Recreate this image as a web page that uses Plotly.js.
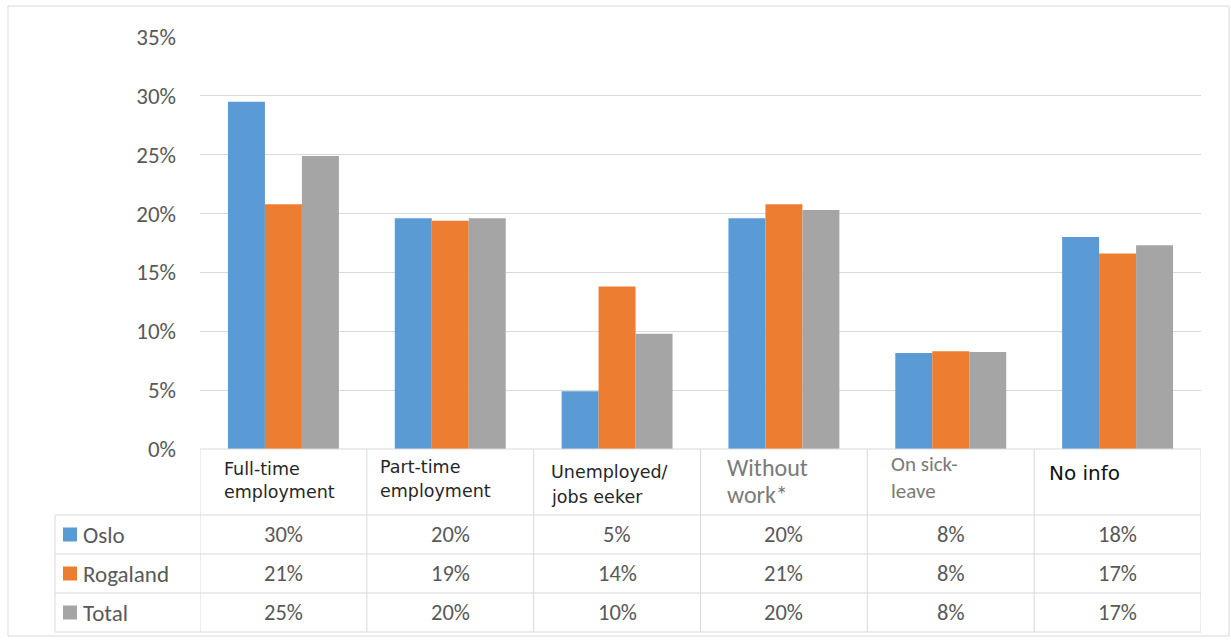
<!DOCTYPE html>
<html>
<head>
<meta charset="utf-8">
<script src="https://cdn.plot.ly/plotly-3.0.1.min.js"></script>
<style>
  html, body { margin: 0; padding: 0; background: #ffffff; }
  #chart { width: 1231px; height: 641px; }
</style>
</head>
<body>
<div id="chart"></div>
<script>
// ---------- DATA ----------
const categories = ["Full-time<br>employment", "Part-time<br>employment", "Unemployed/<br>jobs eeker", "Without<br>work*", "On sick-<br>leave", "No info"];
const seriesNames = ["Oslo", "Rogaland", "Total"];
const oslo     = [29.5, 19.6, 4.9, 19.6, 8.15, 18.0];
const rogaland = [20.8, 19.4, 13.8, 20.8, 8.3, 16.6];
const total    = [24.9, 19.6, 9.8, 20.3, 8.25, 17.3];
const yTicks   = [0, 5, 10, 15, 20, 25, 30, 35];

// ---------- STYLE ----------
const colors = ["#5B9BD5", "#ED7D31", "#A5A5A5"];
const seriesValues = [oslo, rogaland, total];
const headerOffsets = [22, 11, 15, 24, 22, 13];   // px from column left edge
const headerLineY = [[469, 492], [467, 491], [472, 497], [467, 494], [464, 491], [473]];
const headerStyles = [
  {family: "DejaVu Sans", size: 17.5, color: "#262626"},
  {family: "DejaVu Sans", size: 17.5, color: "#262626"},
  {family: "DejaVu Sans", size: 17.5, color: "#262626"},
  {family: "Carlito, Open Sans", size: 24, color: "#7a7a7a"},
  {family: "Carlito, Open Sans", size: 21, color: "#7a7a7a"},
  {family: "DejaVu Sans", size: 20, color: "#111111"}
];
const gridCol = "#d9d9d9";
const textGray = "#595959";
const bodyFont = "Carlito, Open Sans";

const L = 200, R = 30, T = 37, B = 192, W = 1231, H = 641;
const PW = W - L - R, PH = H - T - B;
const X = px => (px - L) / PW;
const Y = py => (H - B - py) / PH;

const traces = seriesNames.map((name, i) => ({
  type: "bar",
  name: name,
  x: categories.map((c, j) => j),
  y: seriesValues[i],
  marker: {color: colors[i], line: {width: 0}},
  hoverinfo: "skip"
}));

const shapes = [];
const annotations = [];
const line = (x0, y0, x1, y1, xref) => shapes.push({
  type: "line", xref: xref || "paper", yref: "paper",
  x0: x0, y0: y0, x1: x1, y1: y1,
  line: {color: gridCol, width: 1}, layer: "above"
});

// outer chart border
shapes.push({type: "rect", xref: "paper", yref: "paper",
  x0: X(8), x1: X(1229), y0: Y(636), y1: Y(6),
  line: {color: gridCol, width: 1}, fillcolor: "rgba(0,0,0,0)"});

// table horizontal lines
line(X(200), Y(449), X(1201), Y(449));
[515, 554, 593, 632].forEach(py => line(X(55), Y(py), X(1201), Y(py)));
// legend column left edge
line(X(55), Y(515), X(55), Y(632));
// column separators
for (let k = 0; k <= categories.length; k++) {
  line(k - 0.5, Y(449), k - 0.5, Y(632), "x");
}

// header labels
const colW = PW / categories.length;
categories.forEach((c, j) => {
  const parts = c.split("<br>");
  parts.forEach((p, k) => {
    annotations.push({
      xref: "paper", yref: "paper",
      x: X(L + j * colW + headerOffsets[j]), y: Y(headerLineY[j][k]),
      xanchor: "left", yanchor: "middle",
      text: p, showarrow: false, font: headerStyles[j]
    });
  });
});

// rows
const rowCenters = [534.5, 573.5, 612.5];
seriesNames.forEach((name, i) => {
  shapes.push({type: "rect", xref: "paper", yref: "paper",
    x0: X(63), x1: X(77), y0: Y(rowCenters[i] + 7), y1: Y(rowCenters[i] - 7),
    fillcolor: colors[i], line: {width: 0}});
  annotations.push({xref: "paper", yref: "paper", x: X(81), y: Y(rowCenters[i]),
    xanchor: "left", yanchor: "middle", text: name, showarrow: false,
    font: {family: bodyFont, size: 23, color: textGray}});
  seriesValues[i].forEach((v, j) => {
    annotations.push({xref: "x", yref: "paper", x: j, y: Y(rowCenters[i]),
      xanchor: "center", yanchor: "middle", text: Math.round(v) + "%", showarrow: false,
      font: {family: bodyFont, size: 22.5, color: textGray}});
  });
});

const layout = {
  width: W, height: H,
  margin: {l: L, r: R, t: T, b: B, pad: 0},
  paper_bgcolor: "#ffffff", plot_bgcolor: "#ffffff",
  barmode: "group", bargap: 0.335, bargroupgap: 0,
  showlegend: false,
  xaxis: {range: [-0.5, categories.length - 0.5], showticklabels: false, showgrid: false,
          zeroline: false, showline: false, ticks: "", fixedrange: true},
  yaxis: {range: [0, 35], tickvals: yTicks, ticktext: yTicks.map(v => v + "%"),
          showgrid: true, gridcolor: gridCol, gridwidth: 1, zeroline: false, showline: false,
          ticks: "", ticklabelstandoff: 23,
          tickfont: {family: bodyFont, size: 23, color: textGray}, fixedrange: true},
  shapes: shapes,
  annotations: annotations
};

Plotly.newPlot("chart", traces, layout, {displayModeBar: false, staticPlot: true});
</script>
</body>
</html>
